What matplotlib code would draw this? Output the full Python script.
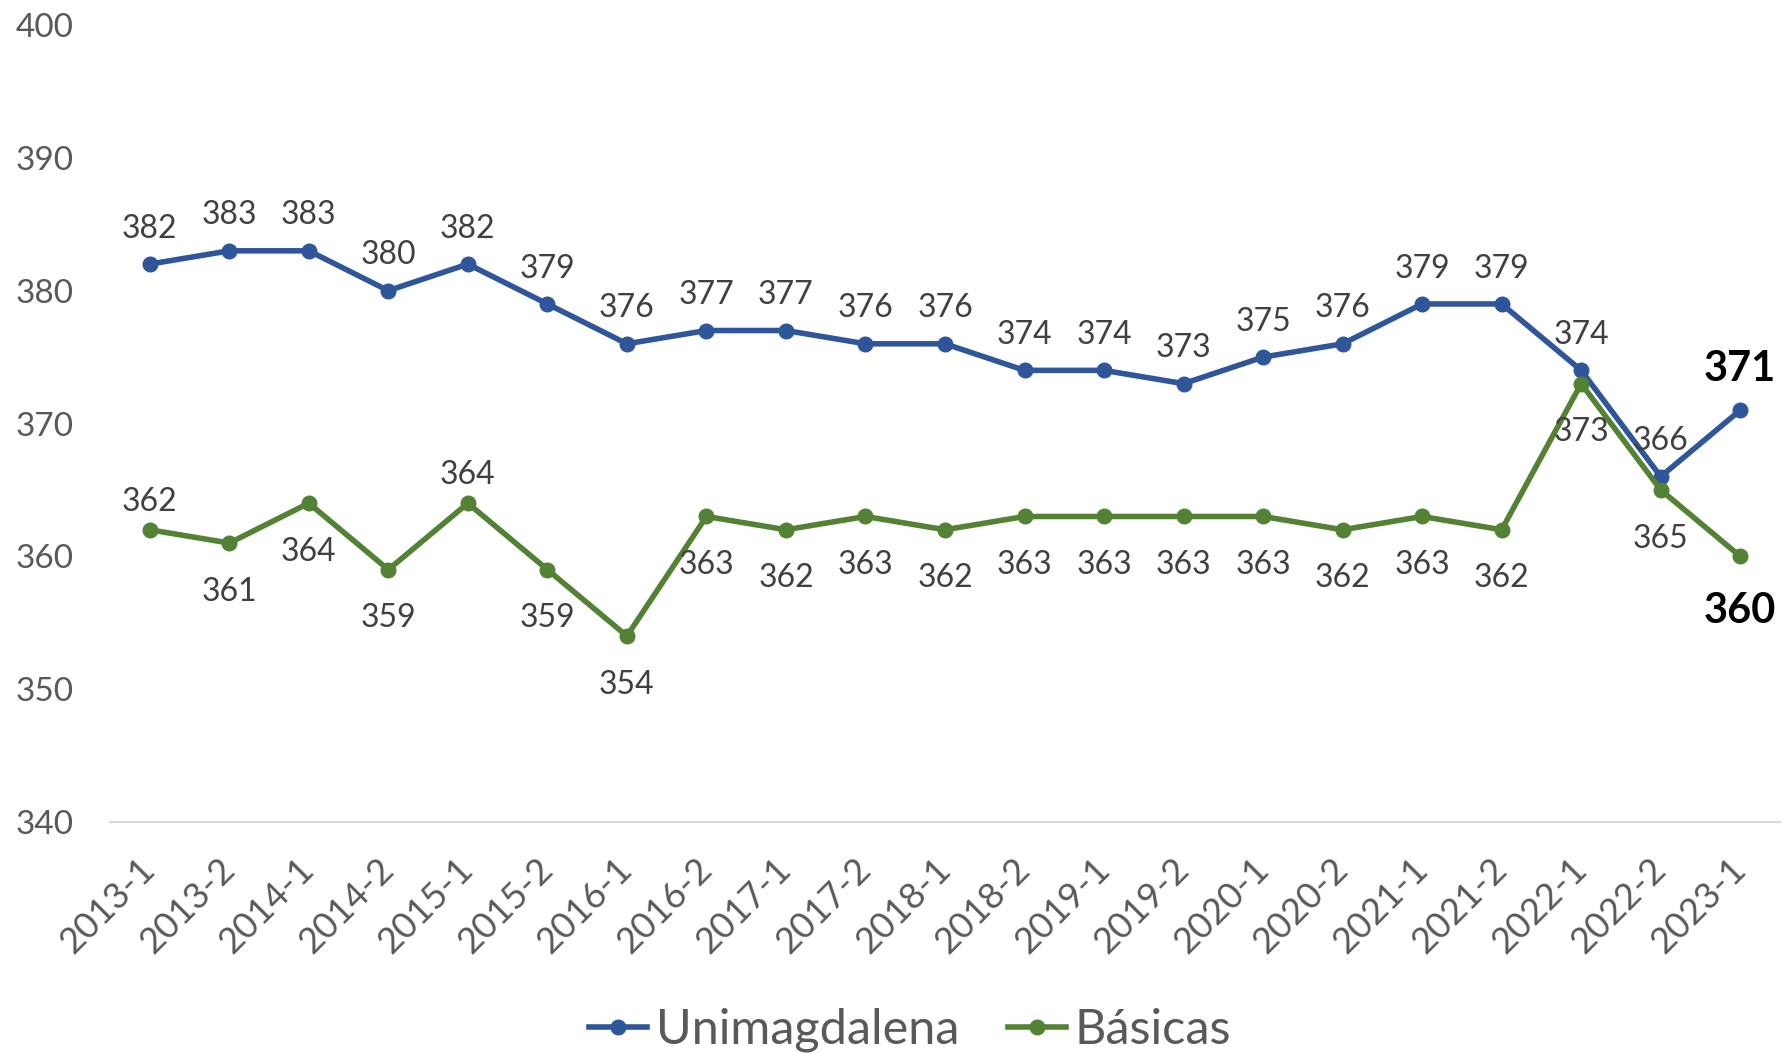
import matplotlib
matplotlib.use("Agg")
import matplotlib.pyplot as plt

plt.rcParams['font.family'] = ['Lato', 'DejaVu Sans']

periods = ["2013-1", "2013-2", "2014-1", "2014-2", "2015-1", "2015-2", "2016-1",
           "2016-2", "2017-1", "2017-2", "2018-1", "2018-2", "2019-1", "2019-2",
           "2020-1", "2020-2", "2021-1", "2021-2", "2022-1", "2022-2", "2023-1"]
unimagdalena = [382, 383, 383, 380, 382, 379, 376, 377, 377, 376, 376, 374, 374, 373,
                375, 376, 379, 379, 374, 366, 371]
basicas = [362, 361, 364, 359, 364, 359, 354, 363, 362, 363, 362, 363, 363, 363,
           363, 362, 363, 362, 373, 365, 360]
# label placement for Básicas: True = above point
basicas_above = [True, False, False, False, True, False, False, False, False, False,
                 False, False, False, False, False, False, False, False, False, False, False]
y_ticks = [340, 350, 360, 370, 380, 390, 400]

BLUE = "#2F559A"
GREEN = "#548235"
LABEL = "#404040"
TICK = "#595959"

fig = plt.figure(figsize=(17.82, 10.53), dpi=100)
ax = fig.add_axes([110 / 1782, 1 - 822 / 1053, 1670 / 1782, (822 - 25) / 1053])
ax.set_facecolor("none")

x = list(range(len(periods)))
ax.plot(x, unimagdalena, color=BLUE, lw=4.0, marker="o", ms=10.5, label="Unimagdalena",
        zorder=3)
ax.plot(x, basicas, color=GREEN, lw=4.0, marker="o", ms=10.5, label="Básicas", zorder=3)

last = len(periods) - 1
for i, v in enumerate(unimagdalena):
    if i == last:
        ax.annotate(f"{v}", (i, v), xytext=(0, 30), textcoords="offset points",
                    ha="center", va="center", fontsize=30, fontweight="bold",
                    color="black")
    else:
        ax.annotate(f"{v}", (i, v), xytext=(0, 25.5), textcoords="offset points",
                    ha="center", va="center", fontsize=23, color=LABEL)
for i, v in enumerate(basicas):
    if i == last:
        ax.annotate(f"{v}", (i, v), xytext=(0, -39), textcoords="offset points",
                    ha="center", va="center", fontsize=30, fontweight="bold",
                    color="black")
    else:
        off = 20 if basicas_above[i] else -35
        ax.annotate(f"{v}", (i, v), xytext=(0, off), textcoords="offset points",
                    ha="center", va="center", fontsize=23, color=LABEL)

ax.set_xlim(-0.5, len(periods) - 0.5)
ax.set_ylim(340, 400)
ax.set_yticks(y_ticks)
ax.set_xticks(x)
ax.set_xticklabels(periods, rotation=45, ha="right", va="center",
                   rotation_mode="anchor")
ax.tick_params(axis="x", length=0, pad=30, labelsize=26, labelcolor=TICK)
ax.tick_params(axis="y", length=0, pad=26, labelsize=24, labelcolor=TICK)

for s in ["top", "right", "left"]:
    ax.spines[s].set_visible(False)
ax.spines["bottom"].set_color("#D9D9D9")
ax.spines["bottom"].set_linewidth(1.5)

leg = fig.legend(loc="center", bbox_to_anchor=(910 / 1782, 1 - 1030 / 1053), ncol=2,
                 frameon=False, fontsize=35, handlelength=1.2, handletextpad=0.17,
                 columnspacing=1.0, borderaxespad=0, borderpad=0)
for t in leg.get_texts():
    t.set_color(TICK)

fig.savefig("out.png", dpi=100, facecolor="white")
